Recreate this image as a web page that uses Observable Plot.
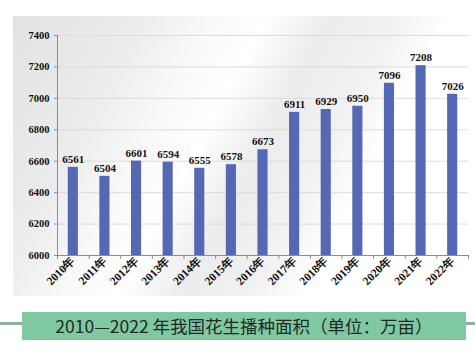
<!DOCTYPE html>
<html>
<head>
<meta charset="utf-8">
<script src="https://cdn.jsdelivr.net/npm/d3@7"></script>
<script src="https://cdn.jsdelivr.net/npm/@observablehq/plot@0.6"></script>
<style>
  html, body { margin: 0; padding: 0; background: #fff; }
  #wrap { position: relative; width: 475px; height: 357px; overflow: hidden; }
  #panel { position: absolute; left: 13px; top: 16px; width: 457px; height: 280px;
    background: linear-gradient(118deg, #e2e2e2 0%, #ededed 22%, #fafafa 34%, #ffffff 42%, #ececec 52%, #f2f2f2 64%, #ffffff 72%, #ffffff 100%); }
  #chart { position: absolute; left: 0; top: 0; }
  #caption { position: absolute; left: 22px; top: 312px; width: 444px; height: 28px;
    background: #7fc8a1; color: #1e2a24; font-family: "Noto Sans CJK SC", "Noto Sans", sans-serif;
    font-size: 17.5px; line-height: 28px; text-align: center; }
  .ln { position: absolute; top: 322px; height: 3px; background: #8eaeaa; }
</style>
</head>
<body>
<div id="wrap">
  <div id="panel"></div>
  <div id="chart"></div>
  <div class="ln" style="left:0;width:22px"></div>
  <div class="ln" style="left:466px;width:9px"></div>
  <div id="caption">2010—2022 年我国花生播种面积（单位：万亩）</div>
</div>
<script>
const years = ["2010年","2011年","2012年","2013年","2014年","2015年","2016年","2017年","2018年","2019年","2020年","2021年","2022年"];
const areas = [6561, 6504, 6601, 6594, 6555, 6578, 6673, 6911, 6929, 6950, 7096, 7208, 7026];
const yTicks = [6000, 6200, 6400, 6600, 6800, 7000, 7200, 7400];

const data = years.map((y, i) => ({year: y, value: areas[i]}));
const W = 475, H = 300, mL = 57, mR = 7;
const step = (W - mL - mR) / years.length;
const serif = "'Liberation Serif', 'Times New Roman', serif";

const chart = Plot.plot({
  width: W, height: H,
  marginLeft: mL, marginRight: mR, marginTop: 35, marginBottom: 45,
  style: {background: "transparent", fontFamily: serif},
  x: {domain: years, paddingInner: 0.68, paddingOuter: 0.34, round: false, label: null},
  y: {domain: [6000, 7400], label: null},
  marks: [
    Plot.gridY(yTicks, {stroke: "#dcdcdc", strokeOpacity: 1}),
    Plot.barY(data, {x: "year", y1: 6000, y2: "value", fill: "#5468b3"}),
    Plot.text(data, {x: "year", y: "value", text: d => String(d.value), dy: -8,
      fontSize: 11, fontWeight: "bold", fill: "#111"}),
    Plot.ruleY([6000], {stroke: "#8c8c8c"}),
    Plot.ruleX([years[0]], {y1: 6000, y2: 7400, dx: -step / 2, stroke: "#8c8c8c"}),
    Plot.ruleX(years, {y1: 6000, y2: 5975, dx: -step / 2, stroke: "#8c8c8c"}),
    Plot.ruleX([years[years.length - 1]], {y1: 6000, y2: 5975, dx: step / 2, stroke: "#8c8c8c"}),
    Plot.axisY(yTicks, {tickSize: 3, tickPadding: 5, stroke: "#8c8c8c", fontSize: 10.5,
      fontWeight: "bold", fill: "#111", fontFamily: serif, tickFormat: d => String(d)}),
    Plot.axisX({tickSize: 0, tickRotate: -45, tickPadding: 3, fontSize: 11.5,
      fontWeight: "bold", fill: "#111", fontFamily: serif})
  ]
});
document.getElementById("chart").appendChild(chart);
</script>
</body>
</html>
